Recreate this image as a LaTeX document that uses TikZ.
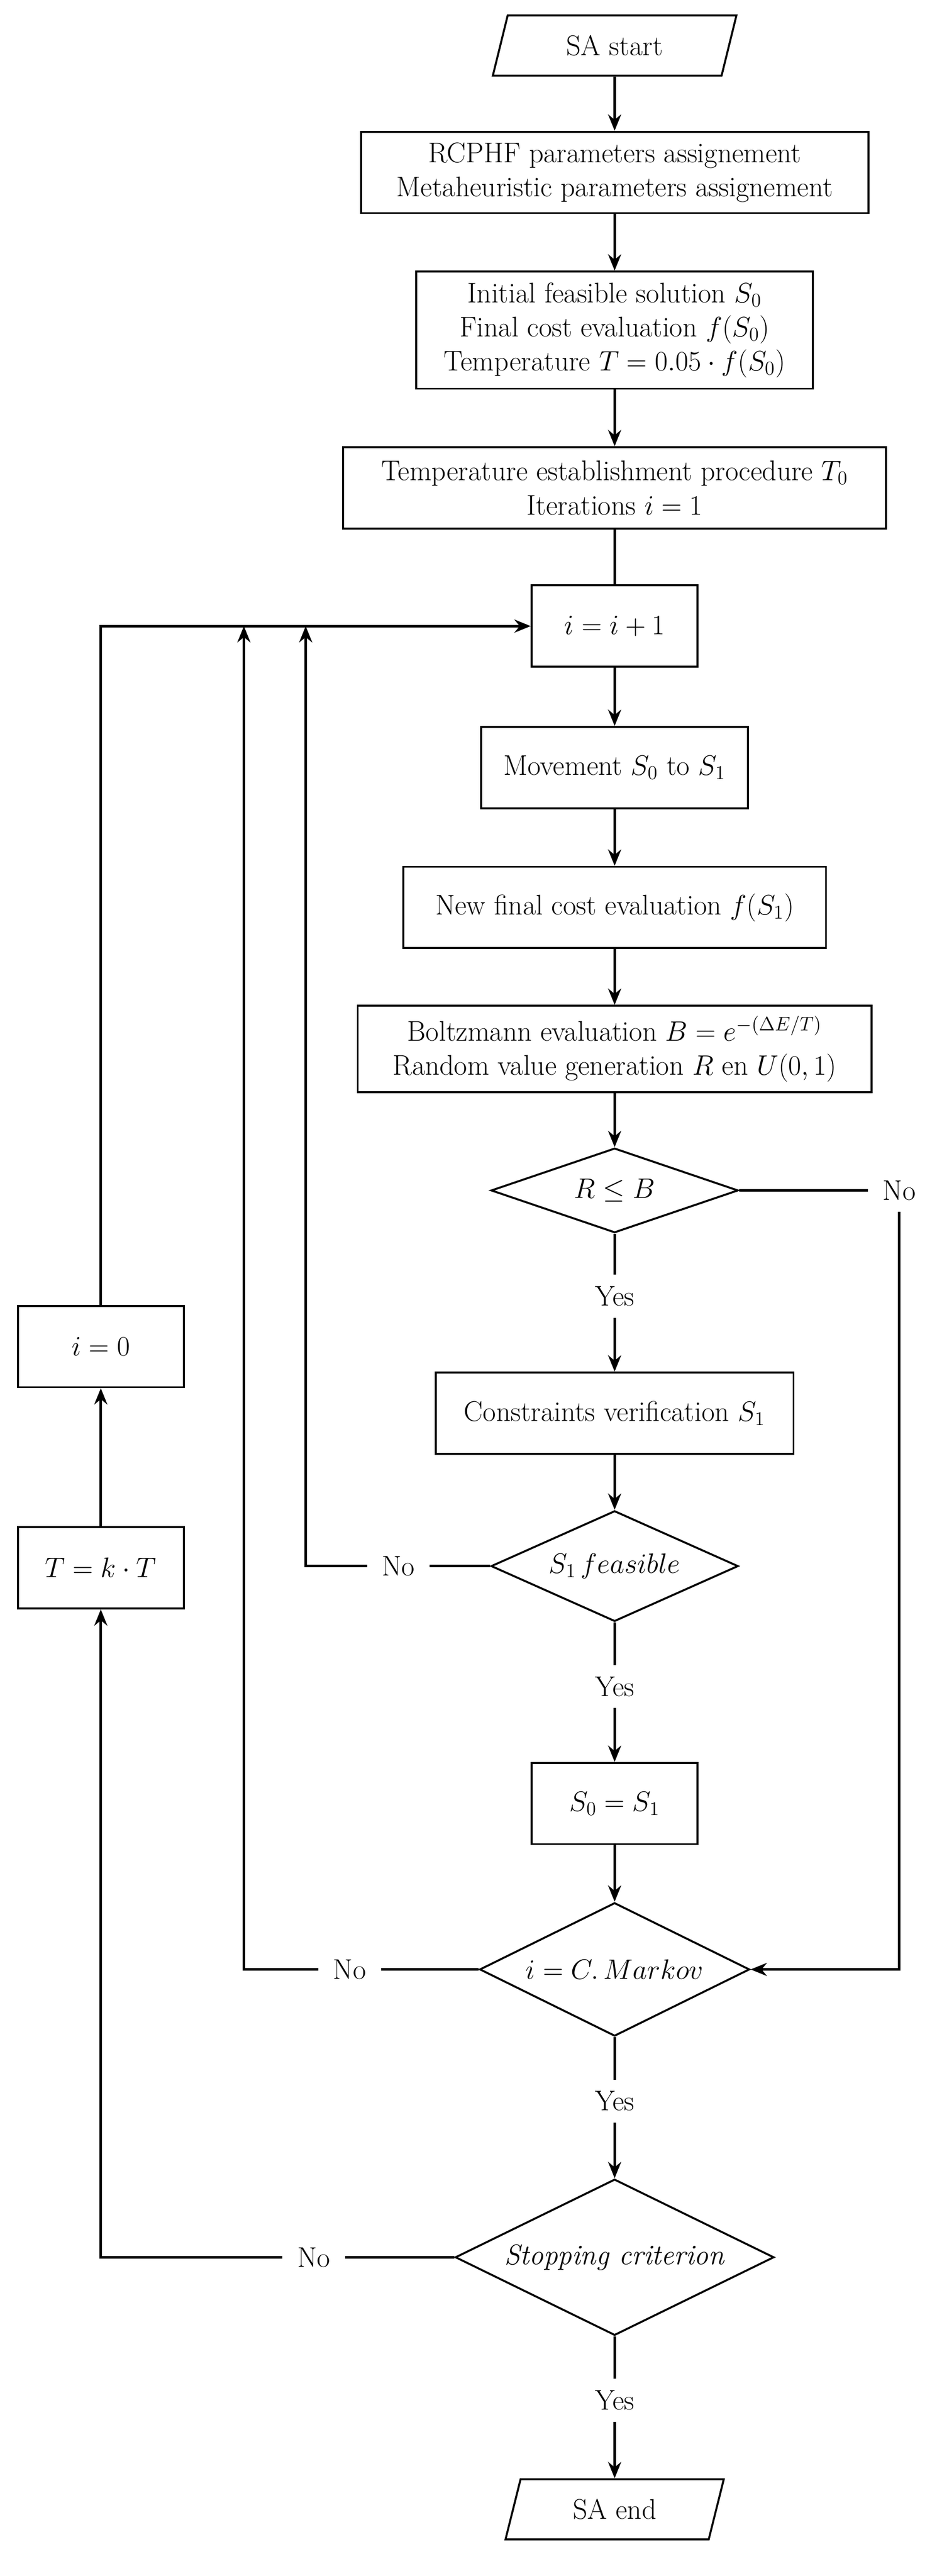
\documentclass[tikz,border=0pt]{standalone}
\usetikzlibrary{shapes.geometric,arrows.meta}
\begin{document}
\begin{tikzpicture}[x=1pt,y=-1pt,
  every node/.style={font=\fontsize{17.5}{21}\selectfont},
  box/.style={draw,line width=1.2pt,align=center,inner sep=0pt},
  dia/.style={draw,diamond,line width=1.2pt,inner sep=0pt,align=center},
  para/.style={draw,trapezium,trapezium left angle=72,trapezium right angle=108,trapezium stretches=true,line width=1.2pt,inner sep=0pt},
  lbl/.style={inner xsep=9pt,inner ysep=7pt},
  ln/.style={line width=1.7pt},
  ar/.style={line width=1.7pt,-{Stealth[length=10pt,width=8pt]}}]
\useasboundingbox (0,0) rectangle (576,1584);
\node[para,minimum width=150,minimum height=37] (start) at (378,28) {SA start};
\node[box,minimum width=312,minimum height=50] (b1) at (378,106) {RCPHF parameters assignement\\Metaheuristic parameters assignement};
\node[box,minimum width=244,minimum height=72] (b2) at (378,203) {Initial feasible solution $S_0$\\Final cost evaluation $f(S_0)$\\Temperature $T=0.05\cdot f(S_0)$};
\node[box,minimum width=334,minimum height=50] (b3) at (378,300) {Temperature establishment procedure $T_0$\\Iterations $i=1$};
\node[box,minimum width=102,minimum height=50] (b4) at (378,385) {$i=i+1$};
\node[box,minimum width=164,minimum height=50] (b5) at (378,472) {Movement $S_0$ to $S_1$};
\node[box,minimum width=260,minimum height=50] (b6) at (378,558) {New final cost evaluation $f(S_1)$};
\node[box,minimum width=316,minimum height=53] (b7) at (378,645) {Boltzmann evaluation $B=e^{-(\Delta E/T)}$\\Random value generation $R$ en $U(0,1)$};
\node[dia,shape aspect=2.9,minimum width=152,minimum height=52] (d1) at (378,732) {$R\leq B$};
\node[lbl] (no1) at (553,732) {No};
\node[lbl] (yes1) at (378,797) {Yes};
\node[box,minimum width=220,minimum height=50] (b8) at (378,869) {Constraints verification $S_1$};
\node[dia,shape aspect=2.2,minimum width=152,minimum height=68] (d2) at (378,963) {$S_1\,feasible$};
\node[lbl] (no2) at (245,963) {No};
\node[lbl] (yes2) at (378,1037) {Yes};
\node[box,minimum width=102,minimum height=50] (b9) at (378,1109) {$S_0=S_1$};
\node[dia,shape aspect=2,minimum width=166,minimum height=82] (d3) at (378,1211) {$i=C.\,Markov$};
\node[lbl] (no3) at (215,1211) {No};
\node[lbl] (yes3) at (378,1292) {Yes};
\node[dia,shape aspect=2.05,minimum width=196,minimum height=96] (d4) at (378,1388) {\textit{Stopping criterion}};
\node[lbl] (no4) at (193,1388) {No};
\node[lbl] (yes4) at (378,1476) {Yes};
\node[para,minimum width=135,minimum height=37] (end) at (378,1543) {SA end};
\node[box,minimum width=102,minimum height=50] (bT) at (62,964) {$T=k\cdot T$};
\node[box,minimum width=102,minimum height=50] (bi) at (62,828) {$i=0$};
\coordinate (c150) at (150,385);
\coordinate (c188) at (188,385);
\draw[ar] (start) -- (b1);
\draw[ar] (b1) -- (b2);
\draw[ar] (b2) -- (b3);
\draw[ln] (b3) -- (b4);
\draw[ar] (b4) -- (b5);
\draw[ar] (b5) -- (b6);
\draw[ar] (b6) -- (b7);
\draw[ar] (b7) -- (d1);
\draw[ln] (d1.east) -- (no1.west);
\draw[ar] (no1.south) |- (d3.east);
\draw[ln] (d1.south) -- (yes1.north);
\draw[ar] (yes1.south) -- (b8);
\draw[ar] (b8) -- (d2);
\draw[ln] (d2.west) -- (no2.east);
\draw[ar] (no2.west) -| (c188);
\draw[ln] (d2.south) -- (yes2.north);
\draw[ar] (yes2.south) -- (b9);
\draw[ar] (b9) -- (d3);
\draw[ln] (d3.west) -- (no3.east);
\draw[ar] (no3.west) -| (c150);
\draw[ln] (d3.south) -- (yes3.north);
\draw[ar] (yes3.south) -- (d4);
\draw[ln] (d4.west) -- (no4.east);
\draw[ar] (no4.west) -| (bT.south);
\draw[ln] (d4.south) -- (yes4.north);
\draw[ar] (yes4.south) -- (end);
\draw[ar] (bT) -- (bi);
\draw[ar] (bi.north) |- (b4.west);
\end{tikzpicture}
\end{document}
